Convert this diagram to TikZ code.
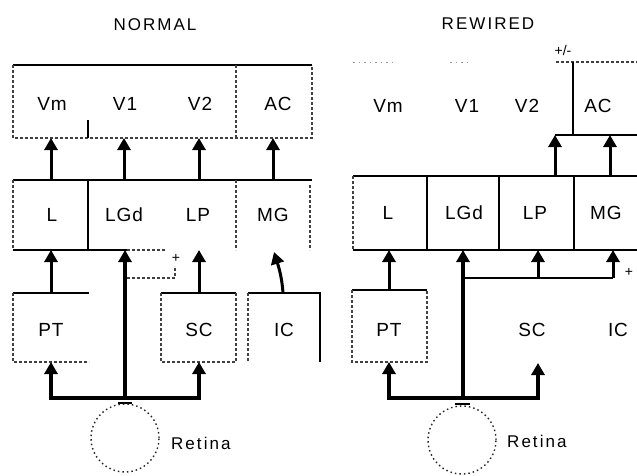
\documentclass[tikz,border=0pt]{standalone}
\usepackage{fontspec}
\setmainfont{Liberation Sans}
\newfontfamily\lblfont[LetterSpace=5]{Liberation Sans}
\newfontfamily\ttlfont[LetterSpace=12]{Liberation Sans}
\usetikzlibrary{arrows.meta}
\begin{document}
\begin{tikzpicture}[x=1pt,y=-1pt,
  lbl/.style={font=\lblfont\fontsize{19}{19}\selectfont, inner sep=0pt},
  ttl/.style={font=\ttlfont\fontsize{17}{17}\selectfont, inner sep=0pt},
  sml/.style={font=\fontsize{14}{14}\selectfont, inner sep=0pt},
  solidline/.style={line width=1.6pt, black},
  thinsolid/.style={line width=1.1pt, black},
  dashline/.style={line width=1.1pt, black!75, dash pattern=on 3pt off 2pt},
  faint/.style={line width=1pt, black!40, dash pattern=on 1.5pt off 4pt},
  tip/.style={-{Triangle[width=13pt,length=12pt]}},
  arr/.style={line width=3pt, tip},
  trunk/.style={line width=4.5pt, tip},
  bar/.style={line width=3.5pt, line join=miter, {Triangle[width=13pt,length=12pt]}-{Triangle[width=13pt,length=12pt]}},
  retina/.style={line width=1.4pt, black!85, dash pattern=on 1.5pt off 3pt}]
\useasboundingbox (0,0) rectangle (637,475);
\fill[white] (0,0) rectangle (637,475);

% ================= NORMAL =================
\node[ttl] (tN) at (155,25) {NORMAL};
% top row
\draw[solidline] (13,65) -- (312,65);
\draw[dashline] (13,65) -- (13,138) -- (312,138) -- (312,65);
\draw[dashline] (236,65) -- (236,138);
\draw[thinsolid] (88,120) -- (88,138);
\node[lbl] (nVm) at (52,104) {Vm};
\node[lbl] (nV1) at (125,104) {V1};
\node[lbl] (nV2) at (200,104) {V2};
\node[lbl] (nAC) at (278,104) {AC};
% middle row
\draw[solidline] (13,180) -- (312,180);
\draw[dashline] (13,180) -- (13,250);
\draw[solidline] (88,180) -- (88,250);
\draw[dashline] (236,180) -- (236,250);
\draw[dashline] (310,185) -- (310,250);
\draw[solidline] (13,250) -- (127,250);
\draw[dashline] (127,250) -- (165,250);
\node[lbl] (nL) at (52,215) {L};
\node[lbl] (nLGd) at (124,215) {LGd};
\node[lbl] (nLP) at (198,215) {LP};
\node[lbl] (nMG) at (273,215) {MG};
% bottom row boxes
\draw[solidline] (13,293) -- (89,293);
\draw[dashline] (13,293) -- (13,362) -- (89,362);
\node[lbl] (nPT) at (51,330) {PT};
\draw[solidline] (161,293) -- (236,293);
\draw[dashline] (161,293) -- (161,362) -- (236,362) -- (236,293);
\node[lbl] (nSC) at (199,330) {SC};
\draw[solidline] (248,293) -- (320,293) -- (320,362);
\draw[dashline] (248,293) -- (248,362);
\node[lbl] (nIC) at (284,330) {IC};
% coordinates
\coordinate (nA1s) at (51,180);  \coordinate (nA1e) at (51,138);
\coordinate (nA2s) at (124,180); \coordinate (nA2e) at (124,138);
\coordinate (nA3s) at (199,180); \coordinate (nA3e) at (199,138);
\coordinate (nA4s) at (273,180); \coordinate (nA4e) at (273,138);
\coordinate (nPTt) at (51,293);  \coordinate (nLb) at (51,250);
\coordinate (nSCt) at (199,293); \coordinate (nLPb) at (199,250);
\coordinate (nICt) at (283,293); \coordinate (nMGb) at (274,252);
\coordinate (nRet) at (125,400); \coordinate (nLGdb) at (125,250);
\coordinate (nPTb) at (51,362);  \coordinate (nSCb) at (199,362);
\coordinate (nBL) at (51,398);   \coordinate (nBR) at (199,398);
\coordinate (nDs) at (127,278);  \coordinate (nDc) at (175,278); \coordinate (nDe) at (175,266);
% arrows
\draw[arr] (nA1s) -- (nA1e);
\draw[arr] (nA2s) -- (nA2e);
\draw[arr] (nA3s) -- (nA3e);
\draw[arr] (nA4s) -- (nA4e);
\draw[arr] (nPTt) -- (nLb);
\draw[arr] (nSCt) -- (nLPb);
\draw[arr] (nICt) .. controls (282,278) and (279,268) .. (nMGb);
\draw[trunk] (nRet) -- (nLGdb);
\draw[bar] (nPTb) -- (nBL) -- (nBR) -- (nSCb);
\draw[dashline, line width=1.5pt] (nDs) -- (nDc) -- (nDe);
\node[sml] (nPlus) at (176,258) {+};
% retina
\draw[line width=2pt] (118,403) -- (132,403);
\draw[retina] (125,438) circle[radius=34pt];
\node[ttl, anchor=west] (nRetina) at (171,443) {Retina};

% ================= REWIRED =================
\node[ttl] (tR) at (488,24) {REWIRED};
\node[sml] (rPM) at (563,50) {+/-};
\draw[dashline] (556,62) -- (637,62);
\draw[faint] (353,62) -- (393,62);
\draw[faint] (450,62) -- (470,62);
\draw[solidline] (573,62) -- (573,135);
\draw[solidline] (555,135) -- (637,135);
\node[lbl] (rVm) at (388,106) {Vm};
\node[lbl] (rV1) at (467,106) {V1};
\node[lbl] (rV2) at (527,106) {V2};
\node[lbl] (rAC) at (598,106) {AC};
% middle row
\draw[solidline] (353,176) -- (637,176);
\draw[dashline] (353,176) -- (353,250);
\draw[thinsolid] (427,176) -- (427,250);
\draw[thinsolid] (499,176) -- (499,250);
\draw[thinsolid] (574,176) -- (574,250);
\draw[solidline] (353,250) -- (637,250);
\node[lbl] (rL) at (388,213) {L};
\node[lbl] (rLGd) at (464,213) {LGd};
\node[lbl] (rLP) at (535,213) {LP};
\node[lbl] (rMG) at (606,213) {MG};
% bottom row
\draw[solidline] (352,290) -- (427,290);
\draw[dashline] (352,290) -- (352,362) -- (427,362) -- (427,290);
\node[lbl] (rPT) at (389,330) {PT};
\node[lbl] (rSC) at (532,330) {SC};
\node[lbl] (rIC) at (618,330) {IC};
% coordinates
\coordinate (rA1s) at (555,176); \coordinate (rA1e) at (555,135);
\coordinate (rA2s) at (610,176); \coordinate (rA2e) at (610,135);
\coordinate (rPTt) at (389,290); \coordinate (rLb) at (389,250);
\coordinate (rRet) at (463,400); \coordinate (rLGdb) at (463,250);
\coordinate (rHs) at (463,278);  \coordinate (rH1) at (538,278); \coordinate (rH2) at (613,278);
\coordinate (rLPb) at (538,250); \coordinate (rMGb) at (613,250);
\coordinate (rPTb) at (389,362); \coordinate (rSCb) at (538,363);
\coordinate (rBL) at (389,398);  \coordinate (rBR) at (538,398);
% arrows
\draw[arr] (rA1s) -- (rA1e);
\draw[arr] (rA2s) -- (rA2e);
\draw[arr] (rPTt) -- (rLb);
\draw[trunk] (rRet) -- (rLGdb);
\draw[line width=2.5pt] (rHs) -- (rH2);
\draw[arr] (rH1) -- (rLPb);
\draw[arr] (rH2) -- (rMGb);
\node[sml] (rPlus) at (629,272) {+};
\draw[bar] (rPTb) -- (rBL) -- (rBR) -- (rSCb);
% retina
\draw[line width=2pt] (455,404) -- (470,404);
\draw[retina] (462,440) circle[radius=34pt];
\node[ttl, anchor=west] (rRetina) at (507,441) {Retina};
\end{tikzpicture}
\end{document}
